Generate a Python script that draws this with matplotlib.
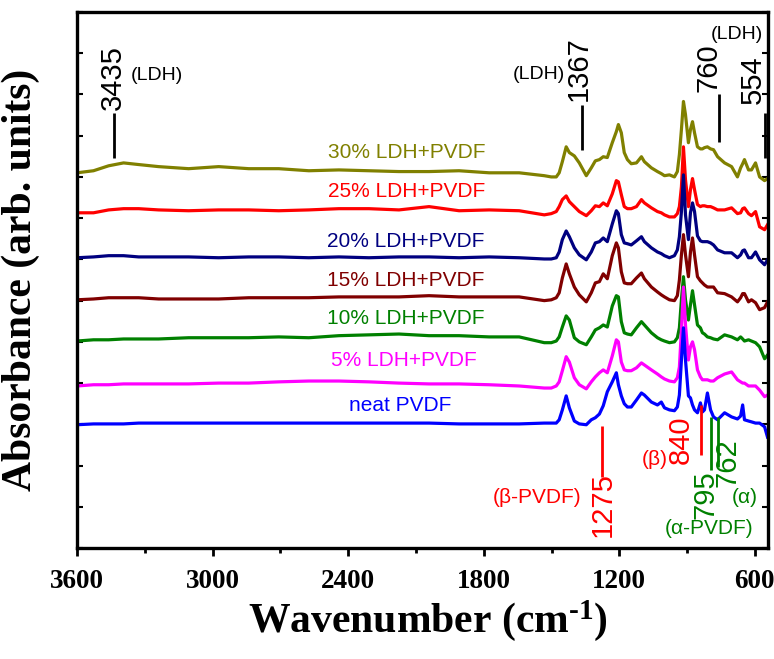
import matplotlib
matplotlib.use("Agg")
import matplotlib.pyplot as plt
from matplotlib.ticker import MultipleLocator

# FTIR spectra of LDH/PVDF films, stacked with a vertical offset

wavenumber = [3600, 3527, 3460, 3394, 3327, 3239, 3106, 2973, 2840, 2707,
              2574, 2441, 2308, 2175, 2042, 1909, 1776, 1643,
              1532, 1501, 1479, 1466, 1452, 1435, 1421, 1399, 1377, 1346,
              1324, 1306, 1288, 1271, 1253, 1231, 1213, 1204, 1191, 1178,
              1164, 1147, 1124, 1102, 1089, 1058, 1031, 1014, 1000, 978,
              956, 943, 934, 925, 916, 907, 894, 885, 876, 867,
              854, 841, 832, 823, 810, 796, 783, 765, 734, 703,
              677, 663, 654, 646, 628, 615, 597, 579, 557, 544]

ldh30 = [0.10, 0.15, 0.27, 0.34, 0.30, 0.25, 0.20, 0.25, 0.20, 0.20,
         0.15, 0.17, 0.15, 0.13, 0.13, 0.15, 0.10, 0.10,
         0.03, 0.00, 0.00, 0.10, 0.37, 0.73, 0.59, 0.51, 0.34, 0.03,
         0.22, 0.39, 0.42, 0.49, 0.47, 0.83, 1.10, 1.27, 1.07, 0.59,
         0.42, 0.32, 0.34, 0.49, 0.37, 0.22, 0.13, 0.08, 0.03, 0.05,
         0.00, 0.13, 0.54, 1.15, 1.83, 1.51, 0.83, 1.15, 1.34, 1.07,
         0.73, 0.68, 0.68, 0.71, 0.73, 0.68, 0.66, 0.49, 0.34, 0.25,
         0.00, 0.22, 0.32, 0.42, 0.17, 0.17, 0.34, 0.00, -0.09, -0.04]

ldh25 = [0.13, 0.13, 0.20, 0.23, 0.23, 0.20, 0.18, 0.20, 0.20, 0.18,
         0.20, 0.23, 0.23, 0.20, 0.28, 0.18, 0.20, 0.18,
         0.08, 0.11, 0.16, 0.28, 0.45, 0.54, 0.40, 0.28, 0.16, 0.06,
         0.18, 0.30, 0.28, 0.37, 0.30, 0.59, 0.91, 0.88, 0.57, 0.28,
         0.23, 0.23, 0.28, 0.45, 0.37, 0.25, 0.16, 0.13, 0.08, 0.03,
         0.03, 0.11, 0.28, 0.76, 1.73, 0.93, 0.28, 0.69, 0.96, 0.69,
         0.33, 0.28, 0.30, 0.30, 0.28, 0.28, 0.25, 0.20, 0.20, 0.25,
         0.11, 0.13, 0.23, 0.25, 0.11, 0.06, 0.16, -0.21, -0.28, -0.16]

ldh20 = [0.04, 0.06, 0.09, 0.09, 0.06, 0.06, 0.06, 0.04, 0.06, 0.06,
         0.04, 0.06, 0.04, 0.06, 0.06, 0.04, 0.06, 0.04,
         0.01, 0.01, 0.04, 0.18, 0.48, 0.69, 0.55, 0.28, 0.11, -0.01,
         0.18, 0.40, 0.43, 0.52, 0.43, 0.86, 1.18, 1.11, 0.60, 0.40,
         0.38, 0.35, 0.45, 0.55, 0.43, 0.28, 0.18, 0.14, 0.09, 0.04,
         0.09, 0.23, 0.55, 1.16, 2.05, 1.08, 0.48, 1.13, 1.37, 1.16,
         0.57, 0.45, 0.43, 0.43, 0.43, 0.40, 0.35, 0.23, 0.16, 0.16,
         0.04, 0.11, 0.21, 0.23, 0.04, 0.04, 0.18, -0.01, -0.13, -0.01]

ldh15 = [0.02, 0.04, 0.07, 0.07, 0.07, 0.04, 0.04, 0.04, 0.07, 0.07,
         0.07, 0.09, 0.09, 0.09, 0.12, 0.09, 0.09, 0.09,
         0.00, 0.02, 0.07, 0.19, 0.55, 0.89, 0.65, 0.33, 0.14, -0.03,
         0.19, 0.43, 0.46, 0.65, 0.53, 1.09, 1.40, 1.28, 0.70, 0.43,
         0.41, 0.41, 0.55, 0.67, 0.53, 0.33, 0.21, 0.14, 0.09, 0.02,
         0.00, 0.12, 0.50, 1.11, 1.60, 1.11, 0.58, 1.18, 1.52, 1.11,
         0.58, 0.48, 0.43, 0.38, 0.33, 0.33, 0.33, 0.19, 0.17, 0.09,
         -0.03, 0.07, 0.17, 0.17, -0.03, 0.02, -0.05, -0.22, -0.17, -0.03]

ldh10 = [0.02, 0.05, 0.05, 0.07, 0.07, 0.07, 0.10, 0.10, 0.10, 0.12,
         0.10, 0.15, 0.17, 0.19, 0.15, 0.15, 0.12, 0.12,
         -0.02, -0.02, 0.02, 0.12, 0.36, 0.63, 0.53, 0.10, 0.00, -0.07,
         0.12, 0.29, 0.34, 0.41, 0.36, 0.87, 1.12, 1.09, 0.49, 0.22,
         0.19, 0.17, 0.34, 0.49, 0.41, 0.22, 0.10, 0.05, 0.02, -0.02,
         0.00, 0.10, 0.34, 1.02, 1.58, 1.02, 0.53, 0.90, 1.24, 0.90,
         0.41, 0.34, 0.22, 0.19, 0.12, 0.10, 0.07, 0.05, 0.17, 0.12,
         0.05, 0.12, 0.07, 0.02, 0.05, 0.02, -0.02, -0.12, -0.41, -0.32]

ldh5 = [-0.07, -0.04, -0.04, -0.02, -0.02, -0.02, -0.02, 0.00, 0.00, 0.03,
        0.05, 0.05, 0.03, 0.00, -0.02, -0.02, -0.04, -0.07,
        -0.12, -0.12, -0.07, 0.03, 0.30, 0.64, 0.51, 0.13, -0.04, -0.14,
        0.03, 0.15, 0.25, 0.32, 0.25, 0.66, 1.05, 1.00, 0.51, 0.32,
        0.30, 0.30, 0.37, 0.49, 0.44, 0.32, 0.22, 0.15, 0.10, 0.05,
        0.03, 0.13, 0.39, 1.29, 2.33, 1.41, 0.56, 0.88, 1.00, 0.81,
        0.32, 0.15, 0.08, 0.08, 0.08, 0.05, 0.05, 0.13, 0.22, 0.27,
        0.08, 0.03, 0.00, 0.00, -0.07, -0.07, -0.07, -0.17, -0.33, -0.29]

neat = [-0.01, 0.01, 0.01, 0.01, 0.03, 0.03, 0.03, 0.03, 0.03, 0.03,
        0.03, 0.03, 0.03, 0.03, 0.03, 0.01, 0.01, 0.01,
        0.03, 0.03, 0.03, 0.11, 0.35, 0.69, 0.40, 0.08, 0.01, -0.01,
        0.11, 0.16, 0.25, 0.45, 0.79, 1.03, 1.25, 0.96, 0.69, 0.50,
        0.42, 0.42, 0.59, 0.76, 0.71, 0.54, 0.47, 0.54, 0.40, 0.35,
        0.33, 0.42, 0.71, 1.56, 2.34, 1.56, 0.69, 0.64, 0.47, 0.35,
        0.28, 0.52, 0.30, 0.35, 0.76, 0.35, 0.18, 0.11, 0.28, 0.18,
        0.13, 0.20, 0.47, 0.11, 0.08, 0.06, 0.03, 0.03, -0.06, -0.31]

samples = ["30% LDH+PVDF", "25% LDH+PVDF", "20% LDH+PVDF", "15% LDH+PVDF",
           "10% LDH+PVDF", "5% LDH+PVDF", "neat PVDF"]
spectra = [ldh30, ldh25, ldh20, ldh15, ldh10, ldh5, neat]
colors = ["#808000", "#ff0000", "#000080", "#800000", "#008000", "#ff00ff", "#0000ff"]
offsets = [9, 8, 7, 6, 5, 4, 3]
label_x = [2139, 2142, 2146, 2146, 2146, 2153, 2168]
label_y = [0.59, 0.64, 0.43, 0.50, 0.56, 0.56, 0.45]

# band assignments: (wavenumber, text, note, colour, line bottom, line top)
bands = [
    (3435, "3435", "(LDH)", "black", 9.47, 10.56),
    (1367, "1367", "(LDH)", "black", 9.66, 10.75),
    (760, "760", "(LDH)", "black", 9.85, 11.00),
    (554, "554", "", "black", 9.47, 10.56),
    (1275, "1275", "(\u03b2-PVDF)", "#ff0000", 1.72, 2.96),
    (840, "840", "(\u03b2)", "#ff0000", 2.26, 3.47),
    (795, "795", "(\u03b1-PVDF)", "#008000", 1.89, 3.18),
    (762, "762", "(\u03b1)", "#008000", 1.97, 3.18),
]
# text offsets in points: number (dx, dy, anchor) and note (dx, dy)
band_text = {
    "3435": ((-0.7, 25, "top"), (31, 27)),
    "1367": ((-2, 26, "top"), (-31, 22)),
    "760": ((-7, 19, "top"), (13, 43)),
    "554": ((-9, 24, "top"), None),
    "1275": ((0, -20, "bottom"), (-47, -15)),
    "840": ((-14, 11, "bottom"), (-33, -3)),
    "795": ((-4, -18, "bottom"), (-1, -42)),
    "762": ((7, 3, "bottom"), (19, -22)),
}

sans = ["Liberation Sans", "DejaVu Sans"]
plt.rcParams["mathtext.fontset"] = "custom"
plt.rcParams["mathtext.rm"] = "Liberation Serif:bold"
plt.rcParams["mathtext.bf"] = "Liberation Serif:bold"
plt.rcParams["mathtext.it"] = "Liberation Serif:bold"
plt.rcParams["mathtext.default"] = "bf"

fig = plt.figure(figsize=(7.74, 6.59), dpi=100)
ax = fig.add_axes([0.0995, 0.1684, 0.8927, 0.8134])

for vals, col, off in zip(spectra, colors, offsets):
    ax.plot(wavenumber, [v + off for v in vals], color=col, lw=2.3,
            solid_joinstyle="round")

for name, col, off, lx, ly in zip(samples, colors, offsets, label_x, label_y):
    ax.text(lx, off + ly, name, color=col, family=sans, fontsize=15,
            ha="center", va="center")

for w, num, note, col, y0, y1 in bands:
    ax.plot([w, w], [y0, y1], color=col, lw=2.0, solid_capstyle="butt")
    (ndx, ndy, end), note_off = band_text[num]
    anchor_y = y1 if end == "top" else y0
    ax.annotate(num, (w, anchor_y), xytext=(ndx, ndy), textcoords="offset points",
                rotation=90, ha="center", va="center", color=col,
                family=sans, fontsize=21, annotation_clip=False)
    if note_off is not None:
        ax.annotate(note, (w, anchor_y), xytext=note_off, textcoords="offset points",
                    ha="center", va="center", color=col, family=sans,
                    fontsize=14 if col == "black" else 15, annotation_clip=False)

ax.set_xlim(3600, 542)
ax.set_ylim(0, 13)
ax.xaxis.set_major_locator(MultipleLocator(600))
ax.xaxis.set_minor_locator(MultipleLocator(300))
ax.yaxis.set_major_locator(MultipleLocator(1))
ax.tick_params(axis="x", which="major", direction="out", length=6, width=2, pad=9)
ax.tick_params(axis="x", which="minor", direction="out", length=3.5, width=2)
ax.tick_params(axis="y", which="major", direction="in", length=4, width=1.5,
               left=True, right=True, labelleft=False)
for lab in ax.get_xticklabels():
    lab.set_family("Liberation Serif")
    lab.set_fontweight("bold")
    lab.set_fontsize(19.5)
for sp in ax.spines.values():
    sp.set_linewidth(2.4)

ax.set_xlabel(r"Wavenumber (cm$^{\text{-1}}$)", family="Liberation Serif",
              fontweight="bold", fontsize=30)
ax.set_ylabel("Absorbance (arb. units)", family="Liberation Serif",
              fontweight="bold", fontsize=30)
ax.xaxis.set_label_coords(0.508, -0.093)
ax.yaxis.set_label_coords(-0.053, 0.5)

fig.savefig("out.png", dpi=100)
